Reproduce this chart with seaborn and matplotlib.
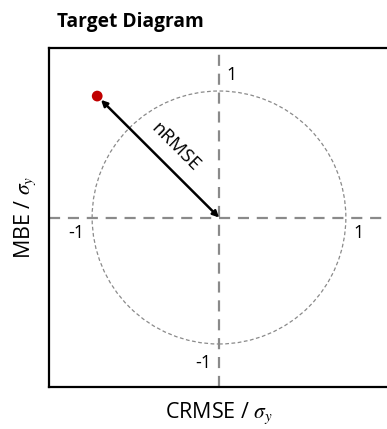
import numpy as np
import pandas as pd
import matplotlib
matplotlib.use("Agg")
import matplotlib.pyplot as plt
import seaborn as sns
from matplotlib.patches import Circle

# Normalised model statistics
crmse_norm = [-0.96]
mbe_norm = [0.96]
tick_labels = ["1", "-1"]

sns.set_theme(style="white")
plt.rcParams["font.family"] = ["Open Sans", "DejaVu Sans"]
plt.rcParams["mathtext.fontset"] = "stix"
plt.rcParams["text.color"] = "black"
plt.rcParams["axes.labelcolor"] = "black"

fig = plt.figure(figsize=(3.87, 4.29), dpi=100)
ax = fig.add_axes([49 / 387, 42 / 429, 340 / 387, 339 / 429])
ax.set_xlim(-1.34, 1.34)
ax.set_ylim(-1.34, 1.34)

for s in ax.spines.values():
    s.set_color("black")
    s.set_linewidth(1.6)

# crosshair through the origin
ax.axhline(0, color="#8a8a8a", lw=1.6, ls=(0, (5, 3.5)), zorder=1)
ax.axvline(0, color="#8a8a8a", lw=1.6, ls=(0, (5, 3.5)), zorder=1)

# unit circle
ax.add_patch(Circle((0, 0), 1.0, fill=False, ec="#8a8a8a", lw=0.9,
                    ls=(0, (3, 2)), zorder=1))

# arrow from origin to the model point
df = pd.DataFrame({"crmse": crmse_norm, "mbe": mbe_norm})
ax.annotate("", xy=(df.crmse[0] + 0.03, df.mbe[0] - 0.03), xytext=(0, 0),
            arrowprops=dict(arrowstyle="<|-|>", color="black", lw=1.8,
                            mutation_scale=9, shrinkA=0, shrinkB=0), zorder=3)
sns.scatterplot(data=df, x="crmse", y="mbe", color="#c00000", s=60,
                edgecolor="none", ax=ax, zorder=4)

ax.text(-0.34, 0.56, "nRMSE", rotation=-45, ha="center", va="center",
        fontsize=13.5)

# axis value labels
ax.text(0.055, 1.13, tick_labels[0], ha="left", va="center", fontsize=13)
ax.text(-1.06, -0.126, tick_labels[1], ha="right", va="center", fontsize=13)
ax.text(1.06, -0.126, tick_labels[0], ha="left", va="center", fontsize=13)
ax.text(-0.063, -1.154, tick_labels[1], ha="right", va="center", fontsize=13)

ax.set_xticks([])
ax.set_yticks([])
ax.set_xlabel(r"CRMSE / $\sigma_y$", fontsize=15.5, labelpad=10)
ax.set_ylabel(r"MBE / $\sigma_y$", fontsize=15.5, labelpad=8)

fig.text(57 / 387, 1 - 22 / 429, "Target Diagram", fontsize=13.8,
         fontweight="bold", ha="left", va="center")

fig.savefig("out.png", dpi=100)
